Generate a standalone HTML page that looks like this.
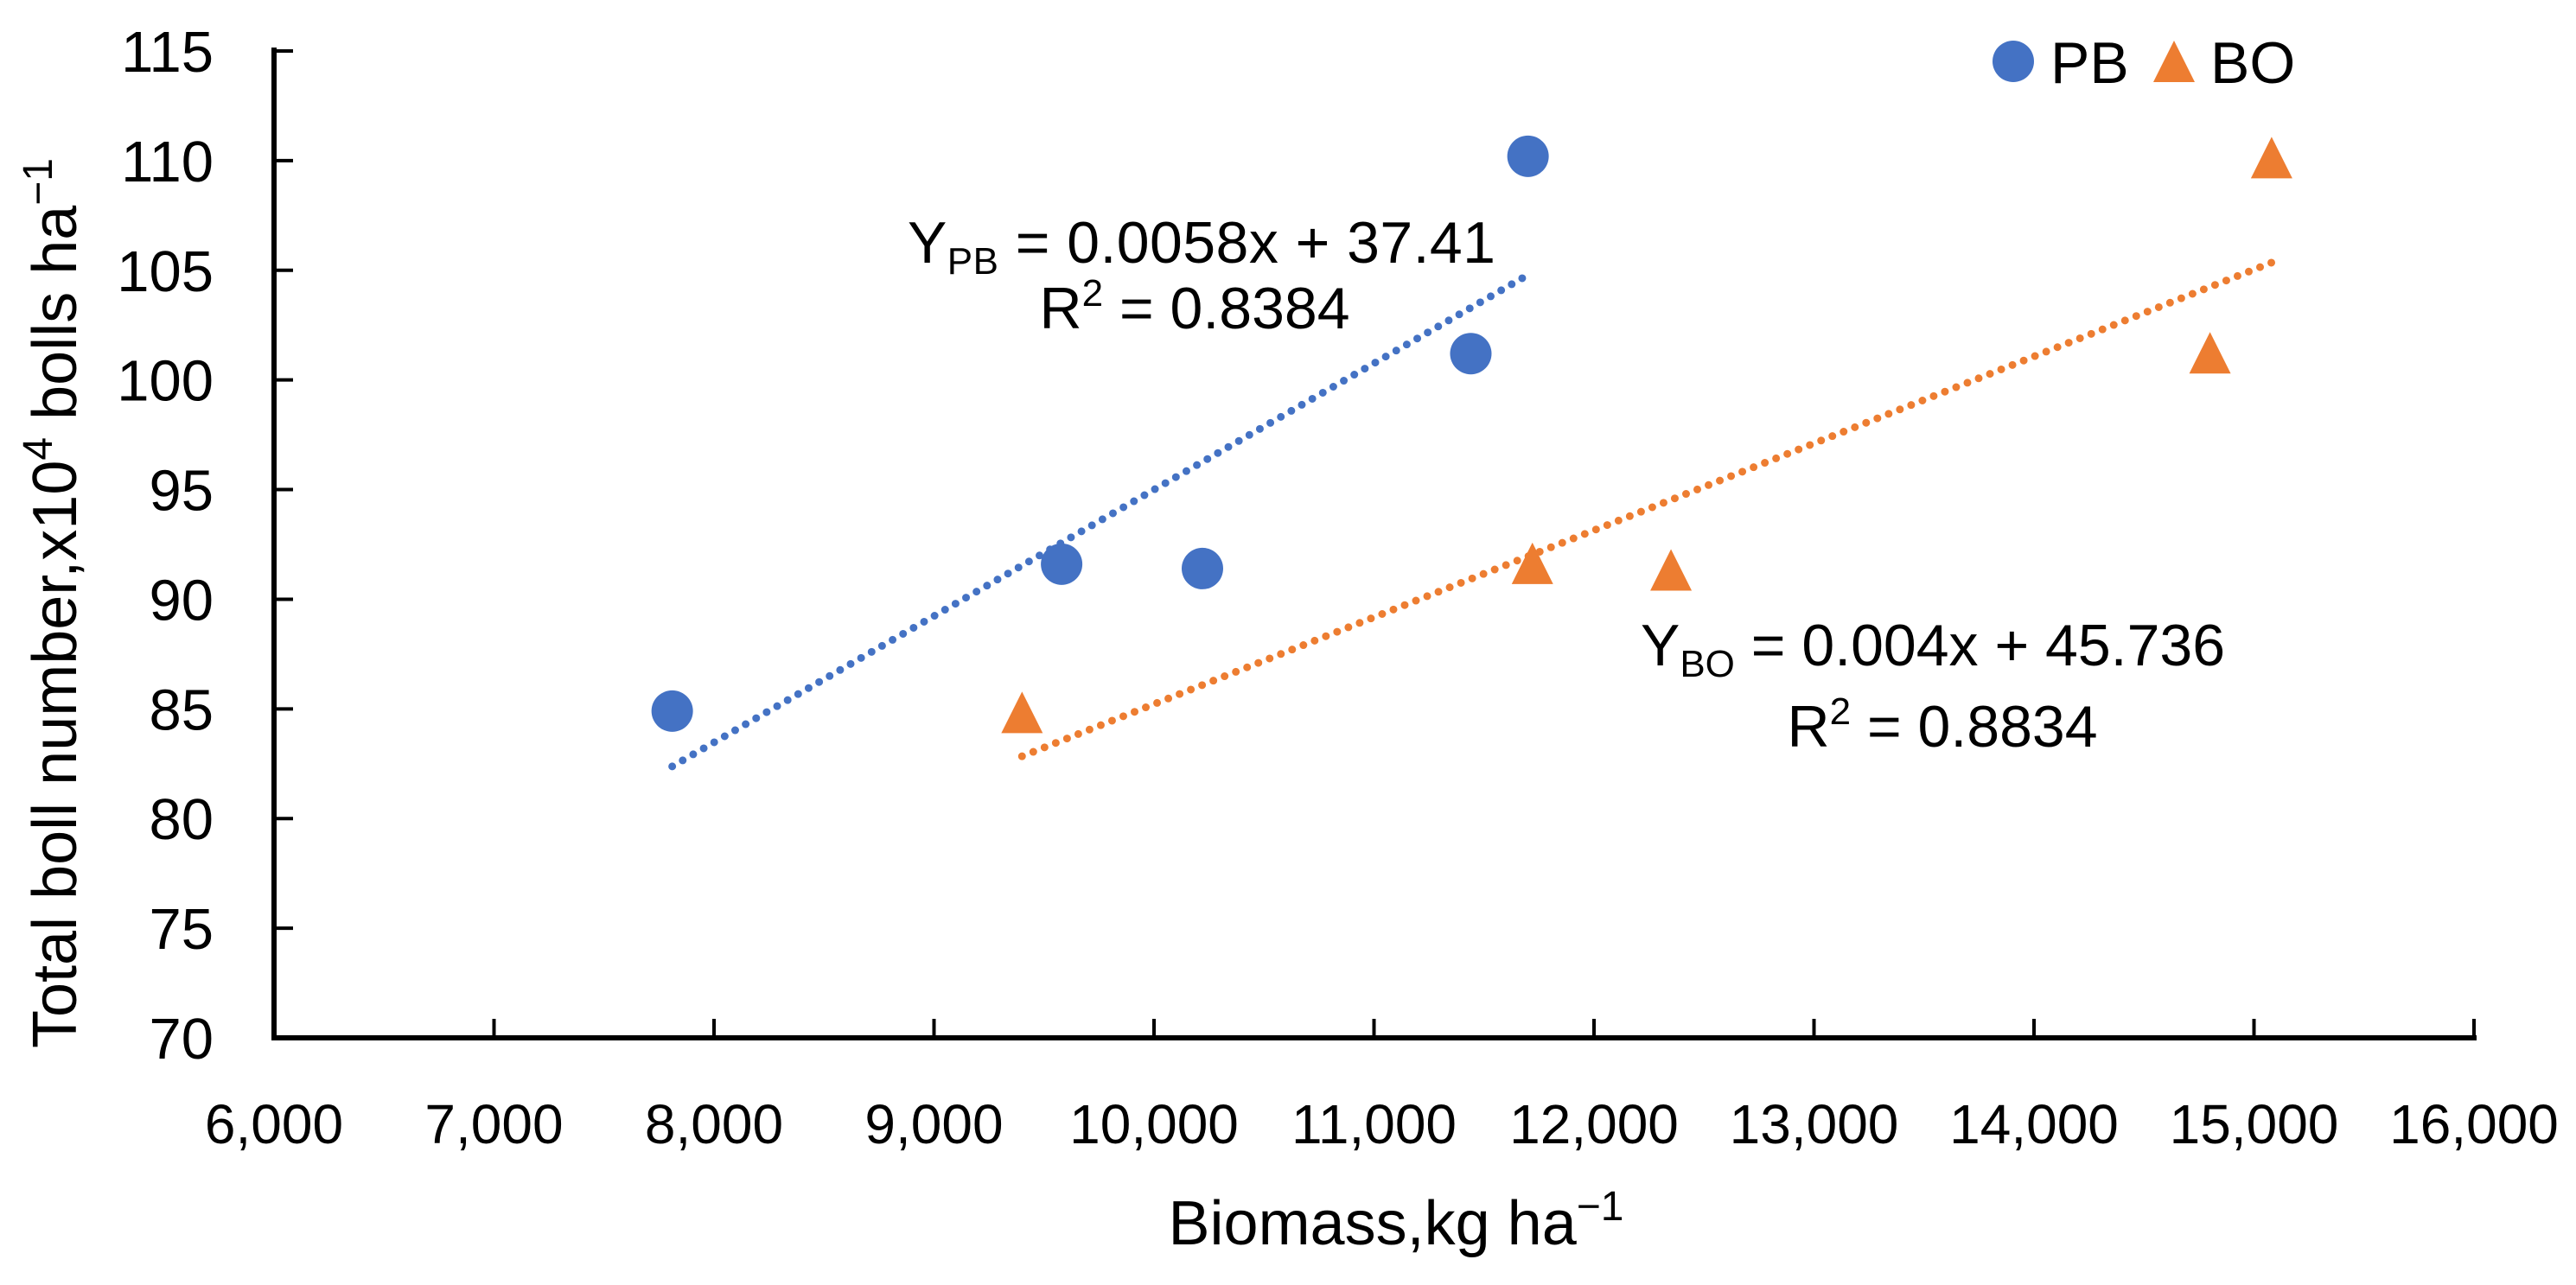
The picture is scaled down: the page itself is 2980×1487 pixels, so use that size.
<!DOCTYPE html>
<html><head><meta charset="utf-8"><style>
html,body{margin:0;padding:0;background:#fff;}
svg{display:block;}
text{font-family:"Liberation Sans",sans-serif;fill:#000;}
</style></head><body>
<svg id="chart" width="2980" height="1487" viewBox="0 0 2980 1487" xmlns="http://www.w3.org/2000/svg">
<g id="grid"></g>
<g id="axes"></g>
<g id="trend"></g>
<g id="marks"></g>
<text x="1390" y="304" font-size="68" text-anchor="middle" textLength="680">Y<tspan font-size="44" dy="13">PB</tspan><tspan dy="-13"> = 0.0058x + 37.41</tspan></text>
<text x="1382" y="380" font-size="68" text-anchor="middle">R<tspan font-size="44" dy="-26">2</tspan><tspan dy="26"> = 0.8384</tspan></text>
<text x="2236" y="770" font-size="68" text-anchor="middle">Y<tspan font-size="44" dy="13">BO</tspan><tspan dy="-13"> = 0.004x + 45.736</tspan></text>
<text x="2247" y="864" font-size="68" text-anchor="middle">R<tspan font-size="44" dy="-26">2</tspan><tspan dy="26"> = 0.8834</tspan></text>
<text x="1615" y="1440" font-size="72" text-anchor="middle">Biomass,kg ha<tspan font-size="48" dy="-28">−1</tspan></text>
<text transform="translate(88,698) rotate(-90)" font-size="72" text-anchor="middle">Total boll number,x10<tspan font-size="48" dy="-28">4</tspan><tspan dy="28"> bolls ha</tspan><tspan font-size="48" dy="-28">−1</tspan></text>
<g>
<circle cx="2329" cy="71" r="24" fill="#4472C4"/>
<text x="2372" y="96" font-size="68">PB</text>
<polygon points="2515,47 2539,95 2491,95" fill="#ED7D31"/>
<text x="2557" y="96" font-size="68">BO</text>
</g>
</svg>
<script>
const xTicks=[6000,7000,8000,9000,10000,11000,12000,13000,14000,15000,16000];
const yTicks=[70,75,80,85,90,95,100,105,110,115];
const pbX=[7810,9580,10220,11440,11700];
const pbY=[84.9,91.6,91.4,101.2,110.2];
const boX=[9400,11720,12350,14800,15080];
const boY=[84.8,91.6,91.3,101.2,110.1];
const NS="http://www.w3.org/2000/svg";
const X0=317,X1=2862,Y0=1201,Y1=59;
function sx(v){return X0+(v-6000)/(16000-6000)*(X1-X0);}
function sy(v){return Y0-(v-70)/(115-70)*(Y0-Y1);}
function mk(tag,attrs,parent){const e=document.createElementNS(NS,tag);for(const k in attrs)e.setAttribute(k,attrs[k]);document.getElementById(parent).appendChild(e);return e;}
let e;
e=mk('line',{x1:X0,y1:Y0,x2:X0,y2:Y1-4,stroke:'#000','stroke-width':6},'axes');


e=mk('line',{x1:X0-3,y1:Y0,x2:X1+3,y2:Y0,stroke:'#000','stroke-width':6},'axes');


xTicks.forEach(t=>{
  const x=sx(t);
  let l=mk('line',{x1:x,y1:Y0,x2:x,y2:Y0-22,stroke:'#000','stroke-width':4},'axes');
  
  
  let tx=mk('text',{x:x,y:Y0+122,'font-size':64,'text-anchor':'middle'},'axes');
  tx.textContent=t.toLocaleString('en-US');
  
  
});
yTicks.forEach(t=>{
  const y=sy(t);
  let l=mk('line',{x1:X0,y1:y,x2:X0+22,y2:y,stroke:'#000','stroke-width':4},'axes');
  
  
  let tx=mk('text',{x:247,y:y+24,'font-size':67,'text-anchor':'end'},'axes');
  tx.textContent=t;
  
  
});
function fit(xs,ys){const n=xs.length;const mx=xs.reduce((a,b)=>a+b)/n,my=ys.reduce((a,b)=>a+b)/n;let sxy=0,sxx=0;for(let i=0;i<n;i++){sxy+=(xs[i]-mx)*(ys[i]-my);sxx+=(xs[i]-mx)**2;}const b=sxy/sxx;return [b,my-b*mx];}
function trend(xs,ys,color,name){
  const [b,a]=fit(xs,ys);const lo=Math.min(...xs),hi=Math.max(...xs);
  let l=mk('line',{x1:sx(lo),y1:sy(a+b*lo),x2:sx(hi),y2:sy(a+b*hi),stroke:color,'stroke-width':9,'stroke-dasharray':'0 14','stroke-linecap':'round'},'trend');
  
  
}
trend(pbX,pbY,'#4472C4','pb-trendline');
trend(boX,boY,'#ED7D31','bo-trendline');
pbX.forEach((v,i)=>{
  let c=mk('circle',{cx:sx(v),cy:sy(pbY[i]),r:24,fill:'#4472C4'},'marks');
  
  
});
boX.forEach((v,i)=>{
  const x=sx(v),y=sy(boY[i]);
  let p=mk('polygon',{points:`${x},${y-25} ${x+24},${y+23} ${x-24},${y+23}`,fill:'#ED7D31'},'marks');
  
  
});
</script>
</body></html>
